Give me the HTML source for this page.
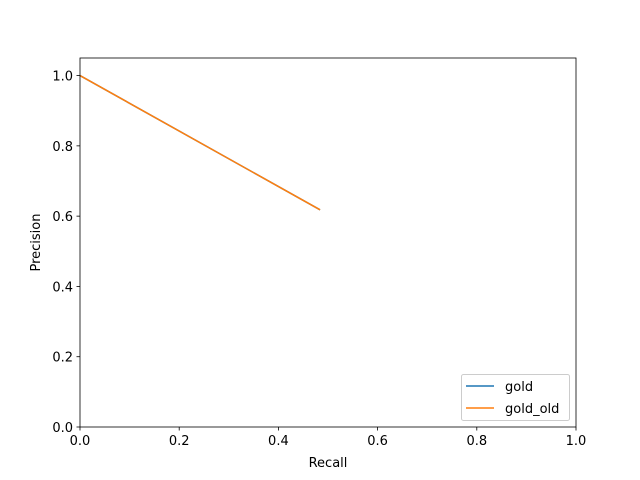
<!DOCTYPE html>
<html><head><meta charset="utf-8"><style>body{margin:0;background:#fff}svg{display:block;font-family:"DejaVu Sans","Liberation Sans",sans-serif}</style></head>
<body>
<svg id="chart" width="640" height="480"></svg>
<script>
const seriesNames = ["gold", "gold_old"];
const seriesColors = ["#1f77b4", "#ff7f0e"];
const goldRecall = [0, 0.484];
const goldPrecision = [1.0, 0.618];
const goldOldRecall = [0, 0.484];
const goldOldPrecision = [1.0, 0.618];
const xTicks = [0, 0.2, 0.4, 0.6, 0.8, 1.0];
const xTickLabels = ["0.0", "0.2", "0.4", "0.6", "0.8", "1.0"];
const yTicks = [0, 0.2, 0.4, 0.6, 0.8, 1.0];
const yTickLabels = ["0.0", "0.2", "0.4", "0.6", "0.8", "1.0"];

const L = 80, R = 576, T = 58, B = 427;
const xS = v => L + (v - 0) / (1 - 0) * (R - L);
const yS = v => B - (v - 0) / (1.05 - 0) * (B - T);
const NS = "http://www.w3.org/2000/svg";
const svg = document.getElementById("chart");
function mk(tag, attrs, parent) {
  const e = document.createElementNS(NS, tag);
  for (const k in attrs) e.setAttribute(k, attrs[k]);
  (parent || svg).appendChild(e);
  return e;
}
const allX = [goldRecall, goldOldRecall], allY = [goldPrecision, goldOldPrecision];
for (let s = 0; s < 2; s++) {
  const pts = allX[s].map((x, i) => xS(x) + "," + yS(allY[s][i])).join(" ");
  const pl = mk("polyline", {points: pts, fill: "none", stroke: seriesColors[s], "stroke-width": 1.5});
  
  
}
const fr = mk("rect", {x: L, y: T, width: R - L, height: B - T, fill: "none", stroke: "#000", "stroke-width": 0.8});


xTicks.forEach((v, i) => {
  const x = xS(v);
  mk("line", {x1: x, x2: x, y1: B, y2: B + 3.5, stroke: "#000", "stroke-width": 0.8});
  const t = mk("text", {x: x, y: B + 18, "text-anchor": "middle", "font-size": 13, fill: "#000"});
  t.textContent = xTickLabels[i];
  
  
});
yTicks.forEach((v, i) => {
  const y = yS(v);
  mk("line", {x1: L - 3.5, x2: L, y1: y, y2: y, stroke: "#000", "stroke-width": 0.8});
  const t = mk("text", {x: L - 7, y: y + 5, "text-anchor": "end", "font-size": 13, fill: "#000"});
  t.textContent = yTickLabels[i];
  
  
});
const xt = mk("text", {x: (L + R) / 2, y: 467, "text-anchor": "middle", "font-size": 13});
xt.textContent = "Recall";


const yt = mk("text", {x: 40, y: (T + B) / 2, "text-anchor": "middle", "font-size": 13, transform: "rotate(-90 40 " + (T + B) / 2 + ")"});
yt.textContent = "Precision";


const lg = mk("g", {});


mk("rect", {x: 461.5, y: 374.5, width: 108, height: 46, rx: 2, fill: "#fff", stroke: "#ccc", "stroke-width": 1}, lg);
seriesNames.forEach((n, i) => {
  const y = 386 + i * 22;
  const g = mk("g", {}, lg);
  
  
  mk("line", {x1: 466, x2: 494, y1: y, y2: y, stroke: seriesColors[i], "stroke-width": 1.5}, g);
  const t = mk("text", {x: 505, y: y + 5, "font-size": 13}, g);
  t.textContent = n;
});
</script>
</body></html>
